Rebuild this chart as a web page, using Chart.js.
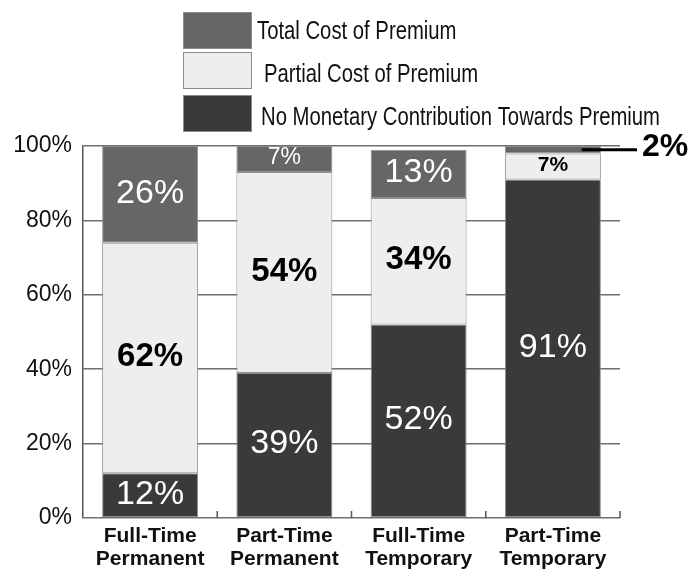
<!DOCTYPE html>
<html>
<head>
<meta charset="utf-8">
<script src="https://cdn.jsdelivr.net/npm/chart.js@4.4.1/dist/chart.umd.min.js"></script>
<style>
  html, body { margin: 0; padding: 0; background: #fff; }
  #wrap { width: 696px; height: 576px; position: relative; }
</style>
</head>
<body>
<div id="wrap"><canvas id="premiumChart"></canvas></div>
<script>
// data
const categories = [["Full-Time", "Permanent"], ["Part-Time", "Permanent"], ["Full-Time", "Temporary"], ["Part-Time", "Temporary"]];
const noContribution = [12, 39, 52, 91];
const partialCost = [62, 54, 34, 7];
const totalCost = [26, 7, 13, 2];
const yTicks = [0, 20, 40, 60, 80, 100];

const SANS = '"Liberation Sans", Arial, Helvetica, sans-serif';

// legend drawn by hand: tall boxes stacked vertically, top series first
const legendBoxes = {
  id: "legendBoxes",
  afterDraw(chart) {
    const ctx = chart.ctx;
    const sets = chart.data.datasets.slice().reverse();
    const tops = [12, 52, 95];
    const textX = [257, 264, 261];
    const textY = [32, 75, 118];
    ctx.save();
    sets.forEach((ds, i) => {
      ctx.fillStyle = ds.backgroundColor;
      ctx.fillRect(183, tops[i], 69, 37);
      ctx.strokeStyle = "#8c8c8c";
      ctx.lineWidth = 1;
      ctx.strokeRect(183.5, tops[i] + 0.5, 68, 36);
      // condensed look: normal face stretched vertically
      ctx.save();
      ctx.translate(textX[i], textY[i]);
      ctx.scale(1, 1.25);
      ctx.fillStyle = "#111";
      ctx.font = "20.3px " + SANS;
      ctx.textAlign = "left";
      ctx.textBaseline = "middle";
      ctx.fillText(ds.label, 0, 0);
      ctx.restore();
    });
    ctx.restore();
  }
};

// small upward ticks at category boundaries on the base line
const boundaryTicks = {
  id: "boundaryTicks",
  afterDatasetsDraw(chart) {
    const x = chart.scales.x;
    const area = chart.chartArea;
    const half = (x.getPixelForValue(1) - x.getPixelForValue(0)) / 2;
    const ctx = chart.ctx;
    ctx.save();
    ctx.strokeStyle = "#555";
    ctx.lineWidth = 1.5;
    categories.forEach((c, i) => {
      const px = x.getPixelForValue(i) + half;
      ctx.beginPath();
      ctx.moveTo(px, area.bottom);
      ctx.lineTo(px, area.bottom - 7);
      ctx.stroke();
    });
    ctx.restore();
  }
};

// percentage labels inside segments, tiny segments get a callout to the right
const segmentLabels = {
  id: "segmentLabels",
  afterDatasetsDraw(chart) {
    const ctx = chart.ctx;
    const area = chart.chartArea;
    ctx.save();
    ctx.textAlign = "center";
    ctx.textBaseline = "middle";
    chart.data.datasets.forEach((ds, di) => {
      const meta = chart.getDatasetMeta(di);
      meta.data.forEach((el, i) => {
        const v = ds.data[i];
        const h = Math.abs(el.base - el.y);
        const cy = (el.y + el.base) / 2;
        const dark = ds.labelColor === "#fff";
        if (v < 4) {
          ctx.strokeStyle = "#000";
          ctx.lineWidth = 3;
          ctx.beginPath();
          ctx.moveTo(el.x + el.width * 0.3, cy);
          ctx.lineTo(area.right + 17, cy);
          ctx.stroke();
          ctx.fillStyle = "#000";
          ctx.font = "bold 32px " + SANS;
          ctx.textAlign = "left";
          ctx.fillText(v + "%", area.right + 22, cy - 3);
          ctx.textAlign = "center";
          return;
        }
        const small = h < 40;
        ctx.fillStyle = ds.labelColor;
        if (dark) ctx.font = (small ? "23px " : "34px ") + SANS;
        else ctx.font = "bold " + (small ? "21px " : "33px ") + SANS;
        ctx.fillText(v + "%", el.x, cy - 1);
      });
    });
    ctx.restore();
  }
};

new Chart(document.getElementById("premiumChart"), {
  type: "bar",
  data: {
    labels: categories,
    datasets: [
      { label: "No Monetary Contribution Towards Premium", data: noContribution, backgroundColor: "#3a3a3a", labelColor: "#fff" },
      { label: "Partial Cost of Premium", data: partialCost, backgroundColor: "#eeeeee", labelColor: "#000" },
      { label: "Total Cost of Premium", data: totalCost, backgroundColor: "#666666", labelColor: "#fff" }
    ].map(ds => Object.assign(ds, {
      borderColor: "#8f8f8f",
      borderWidth: 1,
      borderSkipped: false,
      categoryPercentage: 1,
      barPercentage: 0.715
    }))
  },
  options: {
    responsive: true,
    maintainAspectRatio: false,
    animation: false,
    layout: { padding: { top: 146, right: 76, bottom: 0, left: 0 } },
    plugins: {
      legend: { display: false },
      tooltip: { enabled: false }
    },
    scales: {
      x: {
        stacked: true,
        grid: { display: false, drawTicks: false },
        border: { display: false },
        ticks: {
          color: "#111",
          padding: 7,
          font: { family: SANS, size: 21, weight: "bold", lineHeight: 1.1 }
        },
        afterFit(scale) { scale.height = 58; }
      },
      y: {
        stacked: true,
        min: 0,
        max: 100,
        afterBuildTicks(scale) { scale.ticks = yTicks.map(v => ({ value: v })); },
        grid: { color: "#6e6e6e", lineWidth: 1.5, drawTicks: false },
        border: { color: "#555", width: 1.5 },
        ticks: {
          color: "#111",
          padding: 11,
          font: { family: SANS, size: 23 },
          callback: v => v + "%"
        },
        afterFit(scale) { scale.width = 83; }
      }
    }
  },
  plugins: [legendBoxes, boundaryTicks, segmentLabels]
});
</script>
</body>
</html>
